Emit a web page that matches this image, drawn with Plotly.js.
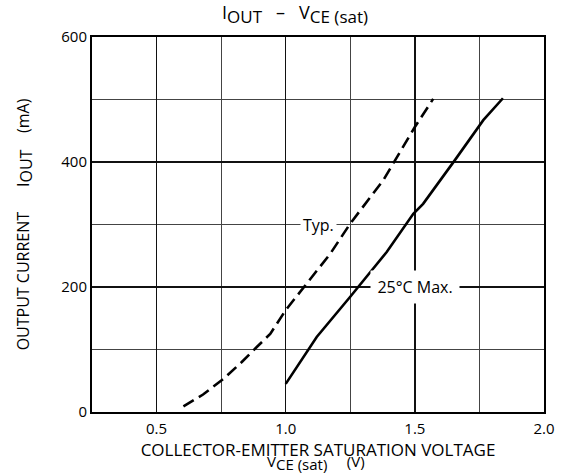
<!DOCTYPE html>
<html>
<head>
<meta charset="utf-8">
<script src="https://cdn.plot.ly/plotly-3.0.1.min.js"></script>
<style>html,body{margin:0;padding:0;background:#fff}#chart{width:561px;height:476px}</style>
</head>
<body>
<div id="chart"></div>
<script>
// Typ. curve (dashed)
const typV = [0.604, 0.68, 0.759, 0.83, 0.888, 0.94, 1.0, 1.082, 1.172, 1.249, 1.378, 1.5, 1.571];
const typI = [9, 28, 53, 80, 104, 125, 163, 205, 253, 301, 371, 456, 501];
// 25°C Max. curve (solid)
const maxV = [1.0, 1.12, 1.249, 1.391, 1.494, 1.532, 1.655, 1.765, 1.841];
const maxI = [45, 120, 184, 256, 317, 333, 403, 467, 502];
const xTicks = [0.5, 1.0, 1.5, 2.0];
const xTickText = ['0.5', '1.0', '1.5', '2.0'];
const yTicks = [0, 200, 400, 600];

const font = 'Open Sans, DejaVu Sans, sans-serif';
const NB = '\u00a0';
const sp = n => NB.repeat(n);
const sub = (t, s) => '<sub><span style="font-size:' + s + 'px">' + t + '</span></sub>';

const traces = [
  {x: typV, y: typI, mode: 'lines', line: {color: '#000', width: 2.6, dash: '12px,6px'}, hoverinfo: 'skip'},
  {x: maxV, y: maxI, mode: 'lines', line: {color: '#000', width: 2.6}, hoverinfo: 'skip'}
];

const layout = {
  width: 561, height: 476,
  margin: {l: 92, r: 17, t: 37, b: 64},
  paper_bgcolor: '#fff', plot_bgcolor: '#fff',
  showlegend: false,
  font: {family: font, color: '#000', size: 15},
  title: {text: 'I' + sub('OUT', 17) + sp(3) + '–' + sp(3) + 'V' + sub('CE (sat)', 17),
          x: 295 / 561, xanchor: 'center', xref: 'container', y: 1 - 13 / 476, yanchor: 'middle', yref: 'container',
          font: {family: font, size: 18, color: '#000'}},
  xaxis: {
    range: [0.25, 2.0], tickvals: xTicks, ticktext: xTickText, ticks: '', ticklen: 0, ticklabelstandoff: 2,
    showline: true, linecolor: '#000', linewidth: 2, mirror: true,
    showgrid: true, gridcolor: '#111', gridwidth: 1.4,
    minor: {dtick: 0.25, showgrid: true, gridcolor: '#444', gridwidth: 1},
    zeroline: false, tickfont: {size: 15},
    title: {text: 'COLLECTOR-EMITTER SATURATION VOLTAGE', standoff: 0, font: {size: 17}}
  },
  yaxis: {
    range: [0, 600], tickvals: yTicks, ticks: '', ticklen: 0,
    showline: true, linecolor: '#000', linewidth: 2, mirror: true,
    showgrid: true, gridcolor: '#111', gridwidth: 1.4,
    minor: {dtick: 100, showgrid: true, gridcolor: '#444', gridwidth: 1},
    zeroline: false, tickfont: {size: 15},
    title: {text: 'OUTPUT CURRENT' + sp(6) + 'I' + sub('OUT', 16) + sp(4) + '(mA)', standoff: 28, font: {size: 16}}
  },
  annotations: [
    {x: 0.5, y: 0, xref: 'paper', yref: 'paper', yanchor: 'middle', yshift: -50, xshift: -2,
     text: 'V' + sub('CE (sat)', 15) + sp(5) + '(V)', showarrow: false, font: {size: 15}},
    {x: 1.125, y: 300, xref: 'x', yref: 'y', text: 'Typ.', showarrow: false, bgcolor: '#fff', borderpad: 2, font: {size: 16}},
    {x: 1.5, y: 200, xref: 'x', yref: 'y', text: '25°C Max.', showarrow: false, bgcolor: '#fff', width: 86, height: 30, font: {size: 16}}
  ]
};

Plotly.newPlot('chart', traces, layout, {staticPlot: true, displayModeBar: false});
</script>
</body>
</html>
